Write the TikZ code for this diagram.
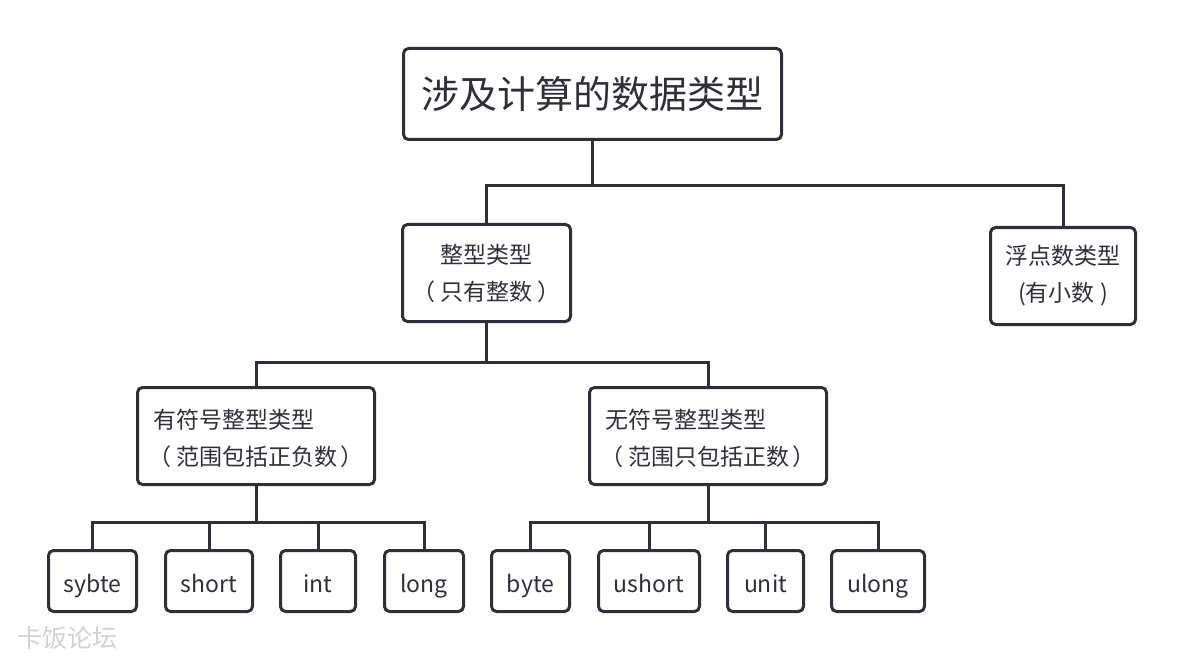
\documentclass[tikz,border=0pt]{standalone}
\usepackage{fontspec}
\setmainfont{Noto Sans CJK SC}
\definecolor{ink}{HTML}{2F2F3B}
\definecolor{wm}{HTML}{D2D2D2}
\tikzset{
  box/.style={draw=ink, line width=3pt, rounded corners=5pt, text=ink, inner sep=0pt},
  conn/.style={draw=ink, line width=3pt},
  txt/.style={text=ink, font=\fontsize{23}{36}\selectfont, inner sep=0pt},
}
\begin{document}
\begin{tikzpicture}[x=1pt,y=-1pt]
\useasboundingbox (0,0) rectangle (1191,663);
% boxes
\node[box, minimum width=378, minimum height=91, font=\fontsize{38}{40}\selectfont] (top) at (592.5,94) {涉及计算的数据类型};
\node[box, minimum width=168, minimum height=97, align=center, font=\fontsize{23}{37}\selectfont] (int) at (486.5,273) {整型类型\\（\kern5pt 只有整数\kern5pt）};
\node[box, minimum width=145, minimum height=97, align=center, font=\fontsize{23}{37}\selectfont] (flt) at (1063,276) {浮点数类型\\(有小数 )};
\node[box, minimum width=237, minimum height=97] (sgn) at (256,436) {};
\node[txt, anchor=west] (sgn1) at (153,420) {有符号整型类型};
\node[txt, anchor=west] (sgn2) at (148,457) {（\kern5pt 范围包括正负数\kern3pt）};
\node[box, minimum width=237, minimum height=97] (uns) at (708,436) {};
\node[txt, anchor=west] (uns1) at (605,420) {无符号整型类型};
\node[txt, anchor=west] (uns2) at (600,457) {（\kern5pt 范围只包括正数\kern3pt）};
% leaves
\tikzset{leaf/.style={box, minimum height=61, text height=22pt, text depth=0pt, font=\fontsize{23}{26}\selectfont}}
\node[leaf, minimum width=88] (sbyte) at (92.5,581) {sybte};
\node[leaf, minimum width=87] (short) at (209,581) {short};
\node[leaf, minimum width=75] (i) at (318,581) {int};
\node[leaf, minimum width=79] (long) at (424,581) {long};
\node[leaf, minimum width=78] (byte) at (530.5,581) {byte};
\node[leaf, minimum width=101] (ushort) at (649,581) {ushort};
\node[leaf, minimum width=76] (unit) at (765.5,581) {unit};
\node[leaf, minimum width=93] (ulong) at (878,581) {ulong};
% junction levels
\coordinate (b1) at (0,186);
\coordinate (b2) at (0,362);
\coordinate (b3) at (0,522);
% connectors
\draw[conn] (top.south) -- (top.south |- b1);
\draw[conn] (int.north) |- (flt.north |- b1) -- (flt.north);
\draw[conn] (int.south) -- (int.south |- b2);
\draw[conn] (sgn.north) |- (uns.north |- b2) -- (uns.north);
\draw[conn] (sgn.south) -- (sgn.south |- b3);
\draw[conn] (sbyte.north) |- (long.north |- b3) -- (long.north);
\draw[conn] (short.north) -- (short.north |- b3);
\draw[conn] (i.north) -- (i.north |- b3);
\draw[conn] (uns.south) -- (uns.south |- b3);
\draw[conn] (byte.north) |- (ulong.north |- b3) -- (ulong.north);
\draw[conn] (ushort.north) -- (ushort.north |- b3);
\draw[conn] (unit.north) -- (unit.north |- b3);
% watermark
\node[text=wm, font=\fontsize{25}{28}\selectfont, anchor=west, inner sep=0pt] (wmark) at (17,638) {卡饭论坛};
\end{tikzpicture}
\end{document}
